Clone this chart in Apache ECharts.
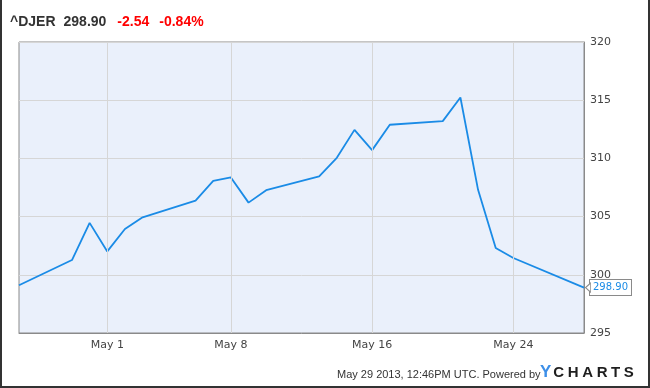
<!DOCTYPE html>
<html>
<head>
<meta charset="utf-8">
<script src="https://cdn.jsdelivr.net/npm/echarts@6/dist/echarts.min.js"></script>
<style>html,body{margin:0;padding:0;background:#fff}#c{width:650px;height:388px}</style>
</head>
<body>
<div id="c"></div>
<script>
var symbol = '^DJER';
var lastPrice = '298.90';
var change = '-2.54';
var changePct = '-0.84%';
var dates = ['2013-04-26','2013-04-29','2013-04-30','2013-05-01','2013-05-02','2013-05-03','2013-05-06','2013-05-07','2013-05-08','2013-05-09','2013-05-10','2013-05-13','2013-05-14','2013-05-15','2013-05-16','2013-05-17','2013-05-20','2013-05-21','2013-05-22','2013-05-23','2013-05-24','2013-05-28'];
var values = [299.1,301.27,304.46,302.01,303.94,304.94,306.38,308.07,308.36,306.2,307.27,308.45,310.05,312.45,310.71,312.89,313.2,315.23,307.3,302.3,301.44,298.90];
var xTickDates = ['2013-05-01','2013-05-08','2013-05-16','2013-05-24'];
var xMin = '2013-04-26', xMax = '2013-05-28';
var yMin = 295, yMax = 320, yStep = 5;
var footerText = 'May 29 2013, 12:46PM UTC. Powered by';
var logoLetters = ['C','H','A','R','T','S'];

function ts(s){ return Date.parse(s + 'T00:00:00Z'); }
var months = ['Jan','Feb','Mar','Apr','May','Jun','Jul','Aug','Sep','Oct','Nov','Dec'];
var tickTs = xTickDates.map(ts);
var seriesData = dates.map(function(d, i){ return [ts(d), values[i]]; });
var lastPoint = seriesData[seriesData.length - 1];

var logoRich = {y: {font: 'bold 17px "Liberation Sans", Arial', fill: '#3d8fe8', color: '#3d8fe8', padding: [0, 2, 0, 0]}};
var logoText = '{y|Y}';
logoLetters.forEach(function(ch, i){
  logoRich['l' + i] = {font: 'bold 15px "Liberation Sans", Arial', fill: '#1e1e1e', color: '#1e1e1e', padding: [0, i < logoLetters.length - 1 ? 3.6 : 0, 0, 0]};
  logoText += '{l' + i + '|' + ch + '}';
});

var chart = echarts.init(document.getElementById('c'), null, {renderer:'canvas'});
chart.setOption({
  animation: false,
  backgroundColor: '#fff',
  title: {
    left: 5, top: 8,
    text: '{a|' + symbol + '}{s|}{a|' + lastPrice + '}{t|}{b|' + change + '}{u|}{b|' + changePct + '}',
    textStyle: {
      rich: {
        a: {fontFamily: 'Liberation Sans, Arial', fontWeight: 'bold', fontSize: 14, color: '#333'},
        b: {fontFamily: 'Liberation Sans, Arial', fontWeight: 'bold', fontSize: 14, color: '#ff0000'},
        s: {width: 8}, t: {width: 11}, u: {width: 10}
      }
    }
  },
  grid: {left: 19, right: 66, top: 42, bottom: 55, show: true, backgroundColor: '#eaf0fb', borderColor: '#8a8a8a', borderWidth: 1},
  xAxis: {
    type: 'value', min: ts(xMin), max: ts(xMax),
    axisLine: {show: true, lineStyle: {color: '#8a8a8a'}},
    axisTick: {show: false, customValues: tickTs},
    splitLine: {show: false},
    axisLabel: {
      customValues: tickTs,
      color: '#444', fontFamily: 'DejaVu Sans', fontSize: 11, margin: 7,
      formatter: function(v){ var d = new Date(v); return months[d.getUTCMonth()] + ' ' + d.getUTCDate(); }
    }
  },
  yAxis: {
    type: 'value', position: 'right', min: yMin, max: yMax, interval: yStep,
    axisLine: {show: true, lineStyle: {color: '#8a8a8a'}},
    axisTick: {show: false},
    splitLine: {show: true, lineStyle: {color: '#d6d6d6', width: 1}},
    axisLabel: {color: '#444', fontFamily: 'DejaVu Sans', fontSize: 11, margin: 6}
  },
  series: [{
    type: 'line',
    data: seriesData,
    showSymbol: false,
    lineStyle: {color: '#1a8be6', width: 1.8},
    itemStyle: {color: '#1a8be6'},
    endLabel: {
      show: true, distance: 6,
      formatter: function(p){ return p.value[1].toFixed(2); },
      color: '#1a8be6', fontFamily: 'DejaVu Sans', fontSize: 10,
      backgroundColor: '#fff', borderColor: '#8a8a8a', borderWidth: 1, padding: [3, 3, 2, 3]
    },
    markLine: {
      silent: true, symbol: 'none', label: {show: false},
      lineStyle: {color: '#d6d6d6', width: 1, type: 'solid'},
      data: tickTs.map(function(t){ return {xAxis: t}; })
    },
    markPoint: {
      silent: true,
      symbol: 'triangle', symbolRotate: 90, symbolSize: [9, 5], symbolOffset: [4, 0],
      itemStyle: {color: '#fff', borderColor: '#8a8a8a', borderWidth: 1},
      label: {show: false},
      data: [{coord: lastPoint}]
    },
    z: 3
  }],
  graphic: [
    {type: 'text', left: 337, top: 369, style: {text: footerText, font: '11px "Liberation Sans", Arial', fill: '#333'}},
    {type: 'text', left: 540, top: 364, style: {text: logoText, rich: logoRich}},
    {type: 'rect', shape: {x: 0, y: 0, width: 2, height: 388}, style: {fill: '#333'}},
    {type: 'rect', shape: {x: 648, y: 0, width: 2, height: 388}, style: {fill: '#333'}},
    {type: 'rect', shape: {x: 0, y: 386, width: 650, height: 2}, style: {fill: '#333'}}
  ]
});
</script>
</body>
</html>
